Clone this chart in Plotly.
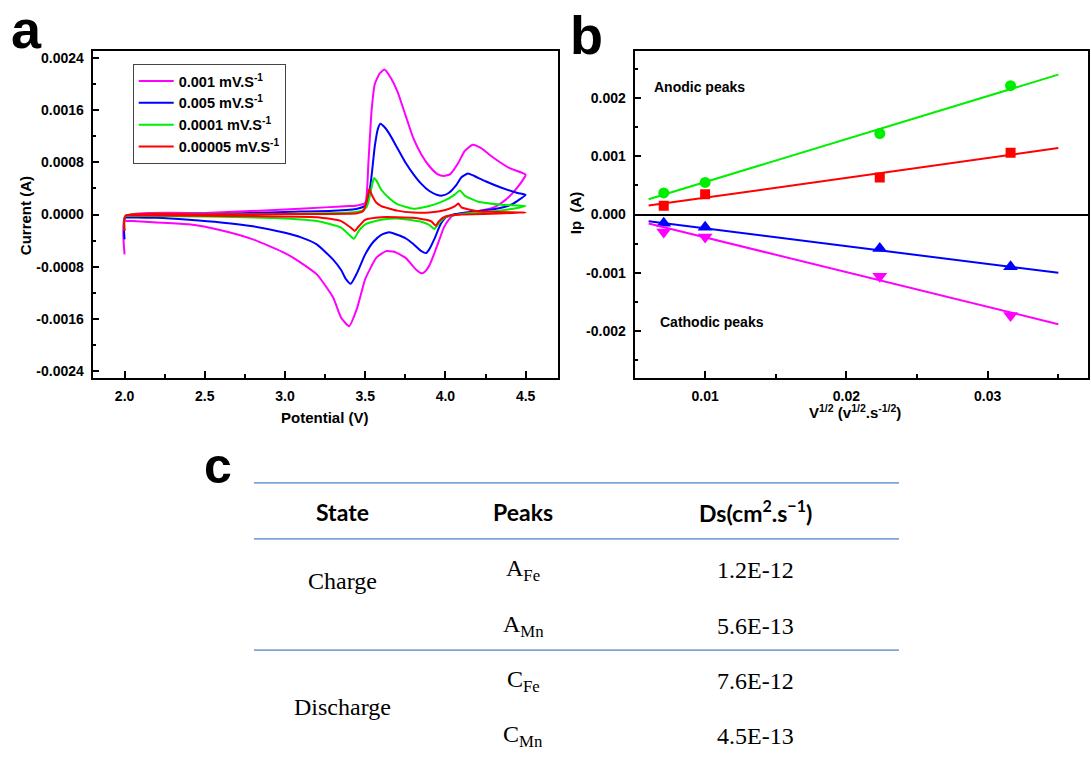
import plotly.graph_objects as go

W, H = 1091, 757


def px(x):
    return x / W


def py(y):
    return 1 - y / H


# ---------------- Panel a : cyclic voltammograms ----------------
scan_labels = ["0.001 mV.S<sup>-1</sup>", "0.005 mV.S<sup>-1</sup>",
               "0.0001 mV.S<sup>-1</sup>", "0.00005 mV.S<sup>-1</sup>"]
cv_colors = ["#FF00FF", "#0000FF", "#00EE00", "#FF0000"]

mag_v = [2.0, 2.005, 2.5, 3.0, 3.25, 3.4, 3.45, 3.5, 3.52, 3.54, 3.56, 3.59, 3.62, 3.66, 3.7,
         3.75, 3.8, 3.85, 3.9, 3.95, 3.99, 4.03, 4.08, 4.12, 4.17, 4.22, 4.3, 4.4, 4.5,
         4.48, 4.45, 4.4, 4.35, 4.3, 4.2, 4.1, 4.05, 4.02, 3.99, 3.96, 3.93, 3.9, 3.87, 3.85,
         3.82, 3.75, 3.68, 3.63, 3.57, 3.5, 3.45, 3.4, 3.35, 3.3, 3.2, 3.1, 3.0, 2.8, 2.6,
         2.4, 2.2, 2.05, 2.005]
mag_i = [-0.00061, -0.00003, 0.000025, 0.000076, 0.00011, 0.00013, 0.00014, 0.00018, 0.0008,
         0.0016, 0.002, 0.00216, 0.00222, 0.00209, 0.00189, 0.00153, 0.00117, 0.00092,
         0.00074, 0.00062, 0.00059, 0.00062, 0.00079, 0.00097, 0.00107, 0.00102, 0.00087,
         0.00071, 0.00061,
         0.00052, 0.00042, 0.00028, 0.00018, 0.00011, 0.00005, 0.00002, -0.00001, -0.00008,
         -0.0002, -0.0004, -0.0006, -0.00078, -0.00088, -0.0009, -0.00085, -0.00066,
         -0.00057, -0.00056, -0.00066, -0.00099, -0.00143, -0.00171, -0.00158, -0.00127,
         -0.00092, -0.00074, -0.00059, -0.00038, -0.00024, -0.00015, -0.00012, -0.0001,
         -0.0001]

blu_v = [2.0, 2.005, 2.5, 3.0, 3.3, 3.45, 3.5, 3.52, 3.54, 3.56, 3.58, 3.595, 3.62, 3.65,
         3.7, 3.75, 3.8, 3.85, 3.9, 3.95, 3.98, 4.02, 4.07, 4.1, 4.14, 4.18, 4.25, 4.35,
         4.45, 4.5,
         4.45, 4.4, 4.3, 4.2, 4.1, 4.05, 4.0, 3.97, 3.93, 3.9, 3.88, 3.85, 3.8, 3.75, 3.7,
         3.65, 3.6, 3.55, 3.5, 3.45, 3.41, 3.38, 3.35, 3.3, 3.2, 3.1, 3.0, 2.8, 2.6, 2.4,
         2.2, 2.005]
blu_i = [-0.00038, -0.00005, 0.0, 0.00004, 0.00006, 0.00009, 0.00014, 0.00025, 0.0006,
         0.00105, 0.00132, 0.00139, 0.00134, 0.00124, 0.00102, 0.0008, 0.00062, 0.00047,
         0.00036, 0.0003, 0.00029, 0.00033, 0.00046, 0.00057, 0.00063, 0.00059, 0.00051,
         0.00041, 0.00033, 0.0003,
         0.00021, 0.00014, 0.00008, 0.00005, 0.00002, 0.0, -0.00005, -0.00015, -0.00038,
         -0.00053, -0.00059, -0.00056, -0.00045, -0.00036, -0.00031, -0.00027, -0.00031,
         -0.00042, -0.00061, -0.00089, -0.00106, -0.00099, -0.00085, -0.00069, -0.00046,
         -0.00035, -0.00028, -0.00018, -0.00012, -0.00008, -0.00005, -0.00004]

grn_v = [2.0, 2.005, 2.5, 3.0, 3.4, 3.48, 3.51, 3.53, 3.545, 3.555, 3.57, 3.6, 3.65, 3.7,
         3.8, 3.9, 4.0, 4.06, 4.09, 4.12, 4.2, 4.35, 4.5,
         4.4, 4.3, 4.1, 4.0, 3.96, 3.93, 3.9, 3.85, 3.8, 3.7, 3.6, 3.5, 3.46, 3.43, 3.4,
         3.35, 3.2, 3.0, 2.5, 2.005]
grn_i = [-0.00025, -0.00002, 0.0, 0.00001, 0.00003, 0.00006, 0.00012, 0.0003, 0.00048,
         0.00056, 0.00052, 0.00038, 0.00025, 0.00016, 0.00009, 0.00013, 0.00022, 0.00031,
         0.00037, 0.00029, 0.0002, 0.00015, 0.00013,
         0.00008, 0.00005, 0.00001, -0.00004, -0.00013, -0.00022, -0.00016, -0.00011,
         -0.00009, -0.00006, -0.00008, -0.00015, -0.00025, -0.00037, -0.00031, -0.0002,
         -0.0001, -0.00006, -0.00003, -0.00002]

red_v = [2.0, 2.005, 2.5, 3.0, 3.45, 3.49, 3.51, 3.525, 3.545, 3.57, 3.6, 3.7, 3.8, 3.9,
         4.0, 4.06, 4.08, 4.1, 4.2, 4.5,
         4.1, 4.0, 3.96, 3.94, 3.91, 3.8, 3.6, 3.5, 3.46, 3.435, 3.41, 3.35, 3.2, 2.5, 2.005]
red_i = [-0.00025, -0.00002, 0.0, 0.00001, 0.00002, 0.00006, 0.00022, 0.00039, 0.00028,
         0.00018, 0.00013, 0.00006, 0.00003, 0.00003, 0.00007, 0.00013, 0.00017, 0.00011,
         0.00005, 0.00003,
         0.0, -0.00003, -0.0001, -0.00017, -0.0001, -0.00005, -0.00004, -0.00008, -0.00018,
         -0.00025, -0.0002, -0.0001, -0.00004, -0.00002, -0.00001]

a_xticks = [2.0, 2.5, 3.0, 3.5, 4.0, 4.5]
a_xticktext = ["2.0", "2.5", "3.0", "3.5", "4.0", "4.5"]
a_yticks = [0.0024, 0.0016, 0.0008, 0.0, -0.0008, -0.0016, -0.0024]
a_yticktext = ["0.0024", "0.0016", "0.0008", "0.0000", "-0.0008", "-0.0016", "-0.0024"]

# ---------------- Panel b : peak current vs sqrt(scan rate) ----------------
sqrt_v = [0.00707, 0.01, 0.02236, 0.03162]
anodic_fe = [0.00037, 0.00055, 0.00139, 0.00221]
anodic_mn = [0.000153, 0.00035, 0.000634, 0.00106]
cathodic_mn = [-0.000148, -0.000216, -0.000583, -0.000897]
cathodic_fe = [-0.0003, -0.000387, -0.00106, -0.00173]
fit_x = [0.006, 0.035]
fit_anodic_fe = [0.000263, 0.0024]
fit_anodic_mn = [0.000154, 0.00114]
fit_cathodic_mn = [-0.000114, -0.001]
fit_cathodic_fe = [-0.000154, -0.00188]

b_xticks = [0.01, 0.02, 0.03]
b_xticktext = ["0.01", "0.02", "0.03"]
b_yticks = [0.002, 0.001, 0.0, -0.001, -0.002]
b_yticktext = ["0.002", "0.001", "0.000", "-0.001", "-0.002"]

# ---------------- Panel c : table ----------------
table_headers = ["State", "Peaks", "Ds(cm<sup>2</sup>.s<sup>\u22121</sup>)"]
states = ["Charge", "Discharge"]
peaks = ["A<sub>Fe</sub>", "A<sub>Mn</sub>", "C<sub>Fe</sub>", "C<sub>Mn</sub>"]
ds_values = ["1.2E-12", "5.6E-13", "7.6E-12", "4.5E-13"]

# ---------------- Figure ----------------
fig = go.Figure()

for v, i, name, col in zip([mag_v, blu_v, grn_v, red_v], [mag_i, blu_i, grn_i, red_i],
                           scan_labels, cv_colors):
    fig.add_trace(go.Scatter(x=v, y=i, mode="lines", name=name,
                             line=dict(color=col, width=2, shape="spline", smoothing=0.5),
                             xaxis="x", yaxis="y"))

b_series = [
    (anodic_fe, fit_anodic_fe, "#00EE00", "circle", 11),
    (anodic_mn, fit_anodic_mn, "#FF0000", "square", 10),
    (cathodic_mn, fit_cathodic_mn, "#0000FF", "triangle-up", 13),
    (cathodic_fe, fit_cathodic_fe, "#FF00FF", "triangle-down", 13),
]
for pts, fit, col, sym, msize in b_series:
    fig.add_trace(go.Scatter(x=fit_x, y=fit, mode="lines", showlegend=False,
                             line=dict(color=col, width=2), xaxis="x2", yaxis="y2"))
    fig.add_trace(go.Scatter(x=sqrt_v, y=pts, mode="markers", showlegend=False,
                             marker=dict(color=col, symbol=sym, size=msize, line=dict(width=0)),
                             xaxis="x2", yaxis="y2"))

tick_font = dict(family="Liberation Sans", size=14, color="black", weight="bold")
axis_common = dict(showline=True, linecolor="black", linewidth=1.8, mirror=True,
                   ticks="inside", ticklen=7, tickwidth=1.5, tickcolor="black",
                   showgrid=False, tickfont=tick_font, ticklabelstandoff=4)

dom_y = [py(377.3), py(49.5)]
fig.update_layout(
    width=W, height=H, margin=dict(l=0, r=0, t=0, b=0),
    paper_bgcolor="white", plot_bgcolor="white",
    xaxis=dict(domain=[px(92.5), px(557.7)], range=[1.8, 4.7], tickvals=a_xticks,
               ticktext=a_xticktext, zeroline=False,
               minor=dict(ticks="inside", ticklen=4, tickwidth=1.5, tickcolor="black",
                          dtick=0.25, tick0=2.0),
               anchor="y", **axis_common),
    yaxis=dict(domain=dom_y, range=[-0.0025, 0.0025], tickvals=a_yticks,
               ticktext=a_yticktext, zeroline=False,
               minor=dict(ticks="inside", ticklen=4, tickwidth=1.5, tickcolor="black",
                          dtick=0.0004, tick0=0),
               anchor="x", **axis_common),
    xaxis2=dict(domain=[px(634.5), px(1088)], range=[0.005, 0.0371], tickvals=b_xticks,
                ticktext=b_xticktext, zeroline=False,
                minor=dict(ticks="inside", ticklen=4, tickwidth=1.5, tickcolor="black",
                           dtick=0.005, tick0=0),
                anchor="y2", **axis_common),
    yaxis2=dict(domain=dom_y, range=[-0.0028, 0.0028], tickvals=b_yticks,
                ticktext=b_yticktext, zeroline=True, zerolinecolor="black",
                zerolinewidth=1.8,
                minor=dict(ticks="inside", ticklen=4, tickwidth=1.5, tickcolor="black",
                           dtick=0.0005, tick0=0),
                anchor="x2", **axis_common),
    legend=dict(x=px(132.7), y=py(62.3), xanchor="left", yanchor="top",
                bordercolor="#444444", borderwidth=1, bgcolor="white",
                font=dict(family="Liberation Sans", size=14.5, color="black", weight="bold"),
                tracegroupgap=0, itemwidth=35),
    showlegend=True,
)

ann = []


def add_text(x, y, text, size, family="Liberation Sans", weight="bold", angle=0,
             xanchor="center"):
    ann.append(dict(x=px(x), y=py(y), xref="paper", yref="paper", text=text,
                    showarrow=False, xanchor=xanchor, yanchor="middle", textangle=angle,
                    font=dict(family=family, size=size, color="black", weight=weight)))


# panel labels
add_text(26, 27, "a", 54)
add_text(586, 33, "b", 54)
add_text(218, 466, "c", 50)

# axis titles
add_text(25, 215, "Current (A)", 15, angle=-90)
add_text(325, 417, "Potential (V)", 15)
add_text(575, 212, "Ip  (A)", 15, angle=-90)
add_text(855, 411, "V<sup>1/2</sup> (v<sup>1/2</sup>.s<sup>-1/2</sup>)", 15)

# panel b labels
add_text(651.7, 85.5, "Anodic peaks", 14, xanchor="left")
add_text(658, 321.5, "Cathodic peaks", 14, xanchor="left")

# table
col_x = [342, 523, 755.5]
for cx, htxt in zip(col_x, table_headers):
    add_text(cx, 511.7, htxt, 23, family="Lato")
state_y = [581.7, 708.3]
for sy, st in zip(state_y, states):
    add_text(col_x[0], sy, st, 24, family="Liberation Serif", weight="normal")
row_y = [570, 626, 681.7, 736.7]
for ry, pk, dv in zip(row_y, peaks, ds_values):
    add_text(col_x[1], ry, pk, 24, family="Liberation Serif", weight="normal")
    add_text(col_x[2], ry, dv, 24, family="Liberation Serif", weight="normal")

shapes = []
for ly in [482.7, 539, 650.7]:
    shapes.append(dict(type="line", xref="paper", yref="paper", x0=px(254), x1=px(899),
                       y0=py(ly), y1=py(ly), line=dict(color="#7EA3D6", width=1.8)))

fig.update_layout(annotations=ann, shapes=shapes)

fig.write_html("out.html", config={"displayModeBar": False},
               post_script="document.body.style.margin='0px';"
                           "document.body.style.overflow='hidden';")
